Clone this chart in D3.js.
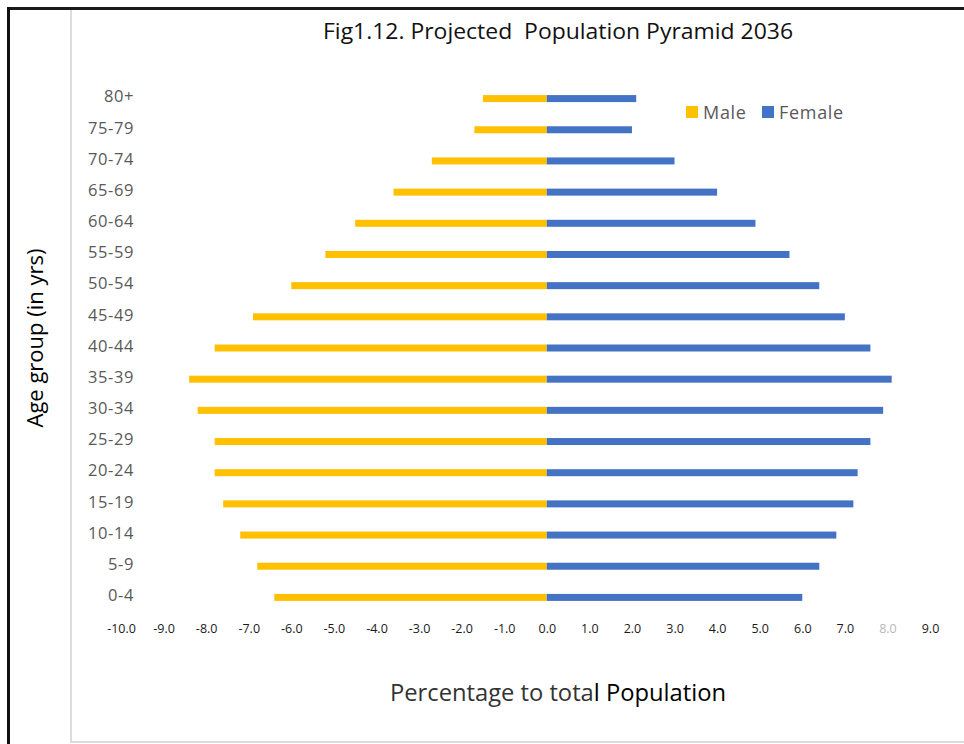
<!DOCTYPE html>
<html>
<head>
<meta charset="utf-8">
<script src="https://cdn.jsdelivr.net/npm/d3@7"></script>
<style>
  html, body { margin: 0; padding: 0; background: #fff; }
  svg { display: block; }
  text { font-family: "Open Sans", "Noto Sans", sans-serif; }
</style>
</head>
<body>
<svg id="chart" width="964" height="744"></svg>
<script>
// ---- data ----
const ageGroups = ["80+", "75-79", "70-74", "65-69", "60-64", "55-59", "50-54", "45-49",
                   "40-44", "35-39", "30-34", "25-29", "20-24", "15-19", "10-14", "5-9", "0-4"];
const maleValues   = [-1.5, -1.7, -2.7, -3.6, -4.5, -5.2, -6.0, -6.9,
                      -7.8, -8.4, -8.2, -7.8, -7.8, -7.6, -7.2, -6.8, -6.4];
const femaleValues = [2.1, 2.0, 3.0, 4.0, 4.9, 5.7, 6.4, 7.0,
                      7.6, 8.1, 7.9, 7.6, 7.3, 7.2, 6.8, 6.4, 6.0];
const xTickValues = [-10, -9, -8, -7, -6, -5, -4, -3, -2, -1, 0, 1, 2, 3, 4, 5, 6, 7, 8, 9];
const seriesNames = ["Male", "Female"];
const seriesColors = ["#FFC000", "#4472C4"];
const titleText = "Fig1.12. Projected\u00A0 Population Pyramid 2036";
const yTitleText = "Age group (in yrs)";

// ---- drawing ----
const svg = d3.select("#chart");

// frame lines
svg.append("line").attr("x1", 7).attr("x2", 964).attr("y1", 8.5).attr("y2", 8.5)
  .attr("stroke", "#1a1a1a").attr("stroke-width", 3);
svg.append("line").attr("x1", 8.5).attr("x2", 8.5).attr("y1", 7).attr("y2", 744)
  .attr("stroke", "#111").attr("stroke-width", 3);
svg.append("line").attr("x1", 71).attr("x2", 71).attr("y1", 10).attr("y2", 742)
  .attr("stroke", "#dcdcdc").attr("stroke-width", 2);
svg.append("line").attr("x1", 70).attr("x2", 964).attr("y1", 742).attr("y2", 742)
  .attr("stroke", "#dcdcdc").attr("stroke-width", 2);

const x = d3.scaleLinear().domain([-10, 9]).range([121, 930]);
const y = d3.scalePoint().domain(ageGroups).range([83, 613]).padding(0.5);
const barH = 7;

// male bars
svg.append("g").selectAll("rect").data(ageGroups).join("rect")
  .attr("x", (d, i) => x(maleValues[i]))
  .attr("width", (d, i) => x(0) - x(maleValues[i]))
  .attr("y", d => y(d) - barH / 2)
  .attr("height", barH)
  .attr("fill", seriesColors[0]);

// female bars
svg.append("g").selectAll("rect").data(ageGroups).join("rect")
  .attr("x", x(0))
  .attr("width", (d, i) => x(femaleValues[i]) - x(0))
  .attr("y", d => y(d) - barH / 2)
  .attr("height", barH)
  .attr("fill", seriesColors[1]);

// y axis labels
const yAxis = d3.axisLeft(y).tickSize(0).tickPadding(0);
const gy = svg.append("g").attr("transform", "translate(134,-2)").call(yAxis);
gy.select(".domain").remove();
gy.selectAll("text")
  .attr("font-size", 16.5).attr("letter-spacing", 0.6).attr("fill", "#595959")
  .attr("font-family", "'Open Sans', sans-serif");

// x axis labels
const xAxis = d3.axisBottom(x).tickValues(xTickValues).tickSize(0).tickPadding(0)
  .tickFormat(d => d.toFixed(1));
const gx = svg.append("g").attr("transform", "translate(0,624)").call(xAxis);
gx.select(".domain").remove();
gx.selectAll("text")
  .attr("font-size", 12.5)
  .attr("font-family", "'Open Sans', sans-serif")
  .attr("fill", d => d === 8 ? "#b8b8b8" : "#1a1a1a");

// title
svg.append("text").attr("x", 558).attr("y", 39)
  .attr("text-anchor", "middle").attr("font-size", 22).attr("fill", "#111")
  .attr("textLength", 470).attr("lengthAdjust", "spacingAndGlyphs")
  .text(titleText);

// y axis title
svg.append("text")
  .attr("transform", "translate(43,338) rotate(-90)")
  .attr("text-anchor", "middle").attr("font-size", 22).attr("fill", "#000")
  .text(yTitleText);

// x axis title
const xt = svg.append("text").attr("x", 558).attr("y", 701)
  .attr("text-anchor", "middle").attr("font-size", 23)
  .attr("textLength", 336).attr("lengthAdjust", "spacingAndGlyphs");
xt.append("tspan").attr("fill", "#333").text("Percentage to tota");
xt.append("tspan").attr("fill", "#000").text("l Population");

// legend
const legend = svg.append("g");
const legendX = [686, 762];
seriesNames.forEach((name, i) => {
  legend.append("rect").attr("x", legendX[i]).attr("y", 106).attr("width", 12).attr("height", 12)
    .attr("fill", seriesColors[i]);
  legend.append("text").attr("x", legendX[i] + 17).attr("y", 119)
    .attr("font-size", 18).attr("letter-spacing", 0.7).attr("fill", "#595959")
    .text(name);
});
</script>
</body>
</html>
